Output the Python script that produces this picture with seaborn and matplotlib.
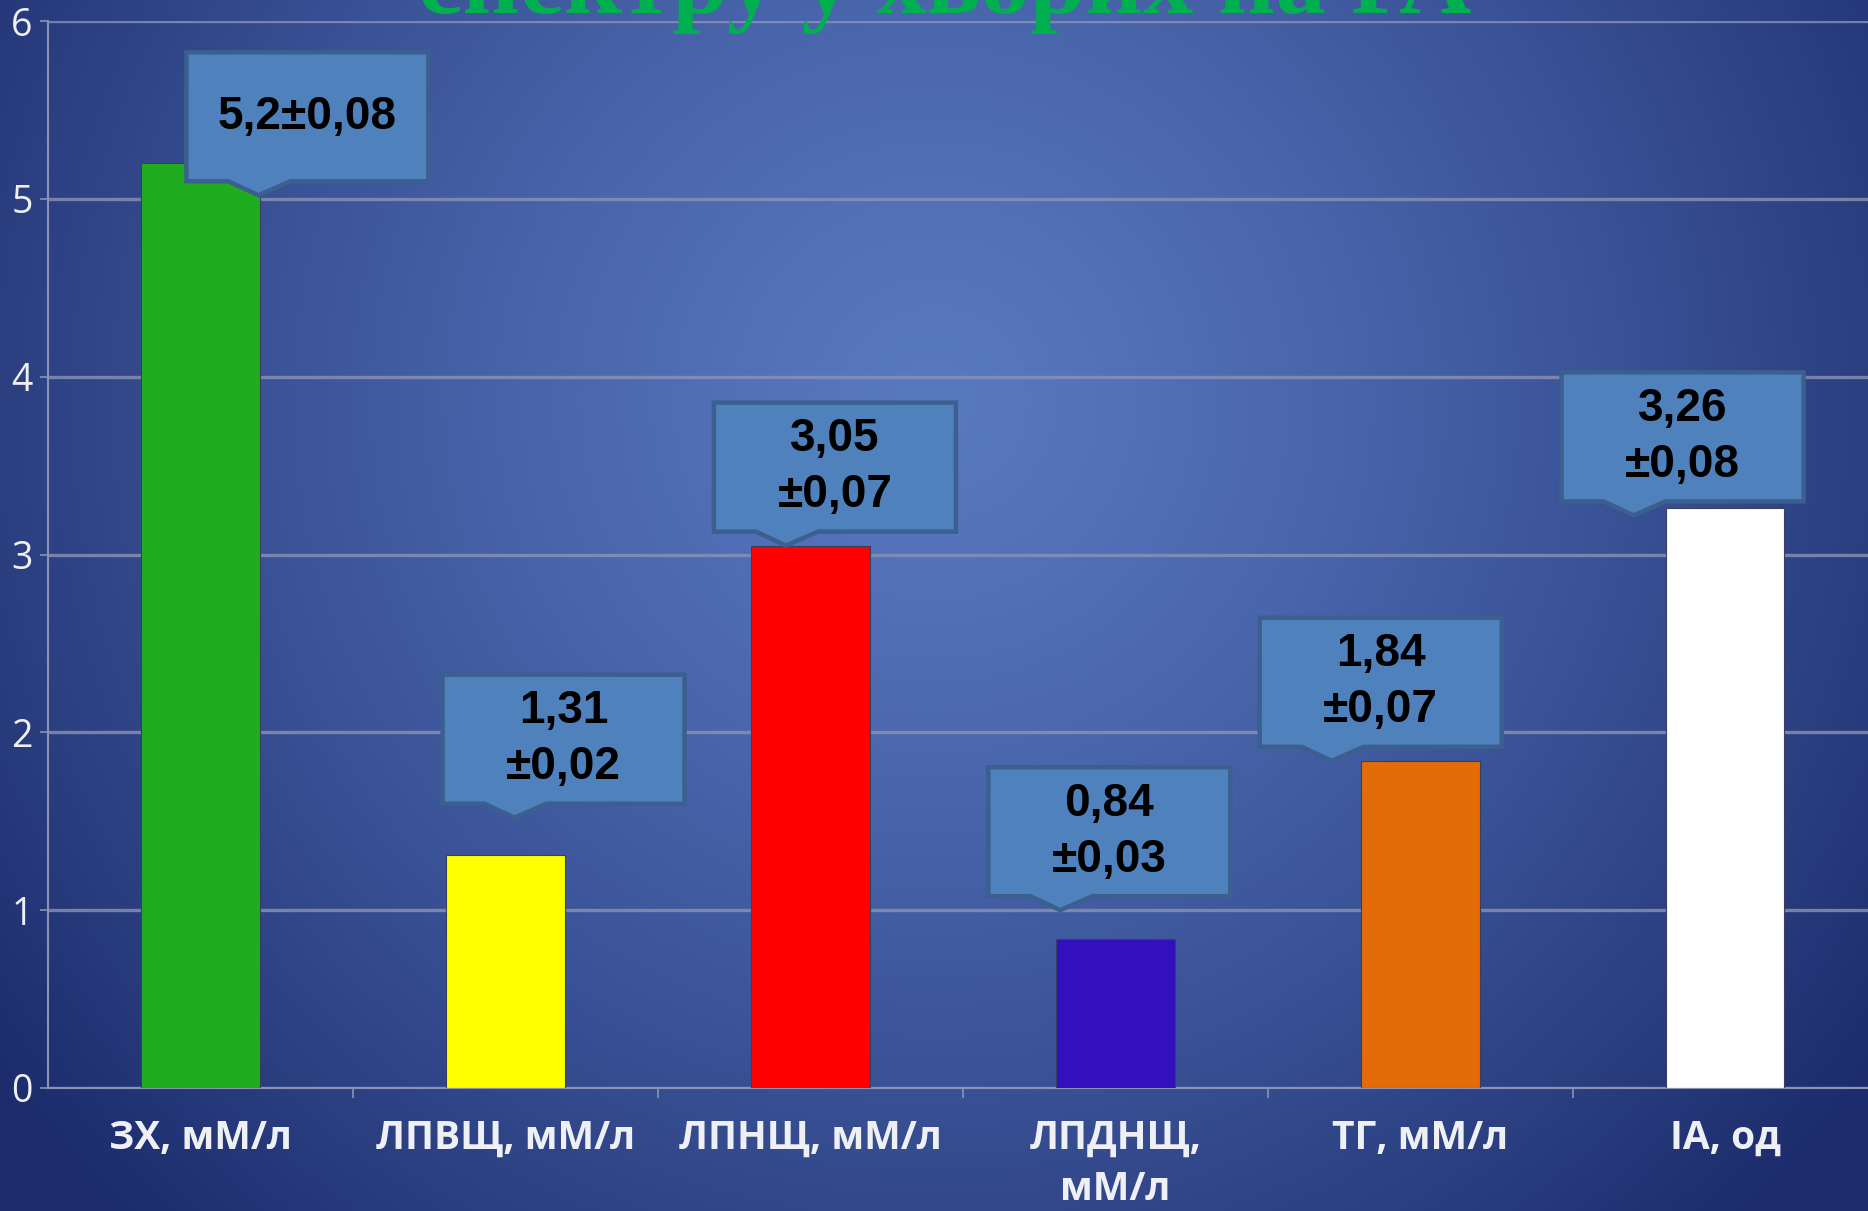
import numpy as np
import matplotlib
matplotlib.use("Agg")
import matplotlib.pyplot as plt
import matplotlib.transforms as mtransforms
from matplotlib.patches import Polygon
import seaborn as sns

# ---- data ----
categories = ["ЗХ, мМ/л", "ЛПВЩ, мМ/л", "ЛПНЩ, мМ/л", "ЛПДНЩ,\nмМ/л", "ТГ, мМ/л", "ІА, од"]
values = [5.2, 1.31, 3.05, 0.84, 1.84, 3.26]
errors = [0.08, 0.02, 0.07, 0.03, 0.07, 0.08]
bar_colors = ["#1fad1f", "#ffff00", "#ff0000", "#3310bd", "#e36c09", "#ffffff"]
y_ticks = [0, 1, 2, 3, 4, 5, 6]
title_text = "спектру у хворих на РА"

# ---- callout layout: pointer tip offset from bar top (x in categories, y in units) ----
tip_dx = [0.19, 0.03, -0.08, -0.18, -0.29, -0.30]
tip_dy = [-0.18, 0.21, 0.0, 0.16, 0.0, -0.04]
one_line = [True, False, False, False, False, False]

W, H = 1868, 1211
DPI = 100
sns.set_theme(style="white")
plt.rcParams["font.family"] = ["Liberation Sans", "DejaVu Sans"]

fig = plt.figure(figsize=(W / DPI, H / DPI), dpi=DPI)

# radial blue background
bg = fig.add_axes([0, 0, 1, 1], zorder=0)
yy, xx = np.mgrid[0:H, 0:W]
cx, cy = 0.50 * W, 0.33 * H
r = np.sqrt(((xx - cx) / (0.62 * W)) ** 2 + ((yy - cy) / (0.95 * H)) ** 2)
r = np.clip(r, 0, 1) ** 1.3
inner = np.array([88, 120, 192]) / 255
outer = np.array([28, 44, 108]) / 255
img = inner[None, None, :] * (1 - r[..., None]) + outer[None, None, :] * r[..., None]
bg.imshow(img, extent=[0, 1, 0, 1], aspect="auto", origin="upper")
bg.set_axis_off()

# chart axes
x0, x1 = 48 / W, 1.0
y0, y1 = 1 - 1088 / H, 1 - 21 / H
ax = fig.add_axes([x0, y0, x1 - x0, y1 - y0], zorder=1)
ax.patch.set_alpha(0)

order = list(range(len(categories)))
sns.barplot(x=order, y=values, hue=order, palette=bar_colors, legend=False,
            width=0.39, saturation=1, ax=ax, edgecolor="#3a3f60",
            linewidth=0.8, zorder=3)

ax.set_xlim(-0.5, (W - 200) / 305)
ax.set_ylim(0, 6)
ax.set_yticks(y_ticks)
ax.set_yticklabels([str(t) for t in y_ticks])
ax.set_xticks(order)
ax.set_xticklabels(categories, linespacing=1.4)
ax.set_xticks([i + 0.5 for i in order[:-1]], minor=True)

grid_col = "#8a93b3"
ax.yaxis.grid(True, color=grid_col, lw=2.4, alpha=0.8, zorder=1)
ax.set_axisbelow(True)
for s in ["top", "right"]:
    ax.spines[s].set_visible(False)
for s in ["left", "bottom"]:
    ax.spines[s].set_color(grid_col)
    ax.spines[s].set_linewidth(1.5)

lab_col = "#eef0f6"
ax.tick_params(axis="y", length=6, color=grid_col, width=1.2, pad=5,
               labelsize=27, labelcolor=lab_col, left=True)
ax.tick_params(axis="x", which="major", length=0, pad=22, labelsize=28,
               labelcolor=lab_col)
ax.tick_params(axis="x", which="minor", length=7, color=grid_col, width=1.2,
               bottom=True, direction="out")
for t in ax.get_xticklabels():
    t.set_family(["Open Sans", "DejaVu Sans"])
    t.set_fontweight("bold")
for t in ax.get_yticklabels():
    t.set_family(["Open Sans", "DejaVu Sans"])
    t.set_fontweight("normal")
ax.set_xlabel("")
ax.set_ylabel("")

# callout boxes (pixel geometry relative to pointer tip)
bw, bh = 242, 129
left_off, gap = 72, 14
base_l, base_r = 42, 104
for i, (v, e) in enumerate(zip(values, errors)):
    tx, ty = i + tip_dx[i], v + tip_dy[i]
    trans = fig.dpi_scale_trans + mtransforms.ScaledTranslation(tx, ty, ax.transData)
    L = -left_off
    B = gap
    verts = np.array([
        (L, B), (L + base_l, B), (0, 0), (L + base_r, B), (L + bw, B),
        (L + bw, B + bh), (L, B + bh)
    ]) / DPI
    poly = Polygon(verts, closed=True, facecolor="#4f81bd", edgecolor="#3b5f8e",
                   linewidth=3.2, joinstyle="miter", transform=trans, zorder=5,
                   clip_on=False)
    ax.add_patch(poly)
    vs = f"{v:g}".replace(".", ",")
    es = f"{e:.2f}".replace(".", ",")
    label = f"{vs}±{es}" if one_line[i] else f"{vs}\n±{es}"
    ax.text((L + bw / 2) / DPI, (B + bh / 2) / DPI, label, transform=trans,
            ha="center", va="center", fontsize=33, fontweight="bold",
            color="black", linespacing=1.36, zorder=6,
            family=["Liberation Sans", "DejaVu Sans"])

# partially visible slide title
fig.text(945 / W, 1 - 13 / H, title_text, ha="center", va="baseline",
         family=["Liberation Serif", "DejaVu Serif"], fontweight="bold",
         fontsize=72, color="#00b050", zorder=10)

fig.savefig("out.png", dpi=DPI)
